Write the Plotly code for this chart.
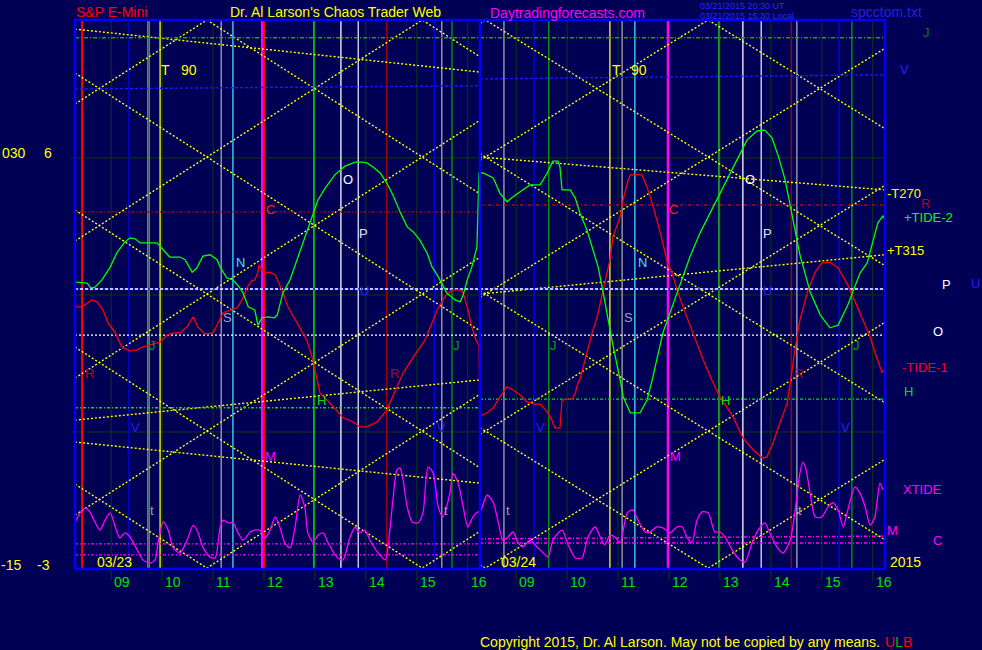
import plotly.graph_objects as go

# ---------------------------------------------------------------------------
# DATA  (x = session hours from the left edge; 03/23 covers 0..7.95, 03/24 covers 7.95..15.90)
#       (y = tide units, -3 at the bottom, 6 at the upper grid line)
# ---------------------------------------------------------------------------
SESSION_OPEN = 8.29          # clock hour at the left edge of each day
DAY_SPAN = 7.95
X_MAX = 15.90
Y_MIN, Y_MAX = -3.0, 9.02
HOURS = [9, 10, 11, 12, 13, 14, 15, 16]
DAYS = ["03/23", "03/24"]
GRID_LEVELS = [6, 3, 0]

GREEN_TIDE = [(0.02,3.28),(0.24,3.26),(0.31,3.15),(0.39,3.17),(0.53,3.33),(0.69,3.61),(0.82,3.92),(0.98,4.16),
 (1.08,4.25),(1.18,4.23),(1.28,4.14),(1.41,4.14),(1.61,4.14),(1.77,3.94),(1.86,3.83),(2.06,3.83),(2.16,3.77),
 (2.30,3.50),(2.39,3.59),(2.51,3.85),(2.65,3.88),(2.79,3.77),(2.85,3.61),(2.98,3.37),(3.10,3.33),(3.24,3.15),
 (3.30,3.04),(3.40,2.74),(3.53,2.67),(3.59,2.34),(3.67,2.50),(3.79,2.52),(3.91,2.50),(3.97,2.56),(4.08,3.04),
 (4.22,3.33),(4.36,3.77),(4.48,4.14),(4.61,4.58),(4.71,4.86),(4.77,5.08),(4.91,5.34),(5.10,5.63),(5.30,5.82),
 (5.50,5.91),(5.63,5.91),(5.73,5.89),(5.85,5.80),(5.99,5.67),(6.12,5.45),(6.24,5.19),(6.38,4.82),(6.52,4.49),
 (6.64,4.38),(6.77,4.20),(6.91,3.92),(7.01,3.61),(7.11,3.44),(7.20,3.26),(7.30,3.04),(7.46,2.89),(7.56,2.85),
 (7.62,3.00),(7.70,3.33),(7.79,3.61),(7.89,4.05),(7.91,4.86),(7.93,5.67),
 (8.01,5.67),(8.21,5.56),(8.34,5.23),(8.48,5.04),(8.60,5.15),(8.79,5.30),(8.93,5.41),(9.13,5.41),(9.27,5.67),
 (9.38,5.93),(9.48,5.93),(9.52,5.80),(9.56,5.30),(9.72,5.30),(9.82,5.12),(9.91,4.80),(10.05,4.42),(10.17,3.98),
 (10.27,3.61),(10.37,3.04),(10.46,2.45),(10.54,2.01),(10.70,1.14),(10.76,0.77),(10.90,0.42),(11.09,0.42),
 (11.23,0.70),(11.33,1.14),(11.54,2.17),(11.72,2.74),(11.88,3.26),(12.07,3.83),(12.27,4.36),(12.47,4.80),
 (12.66,5.23),(12.80,5.52),(13.00,5.96),(13.19,6.39),(13.39,6.59),(13.54,6.61),(13.68,6.44),(13.80,6.06),
 (13.94,5.52),(14.08,4.75),(14.23,3.88),(14.43,3.07),(14.63,2.56),(14.82,2.28),(14.98,2.34),(15.17,2.78),
 (15.41,3.48),(15.55,3.70),(15.67,4.20),(15.76,4.58),(15.86,4.73),(15.90,4.64)]

RED_TIDE = [(0.02,2.74),(0.14,2.74),(0.24,2.82),(0.33,2.89),(0.43,2.85),(0.55,2.67),(0.65,2.39),(0.79,2.17),
 (0.92,1.86),(1.08,1.77),(1.22,1.80),(1.32,1.86),(1.47,1.90),(1.67,1.97),(1.81,2.12),(1.92,2.17),(2.06,2.17),
 (2.20,2.30),(2.32,2.52),(2.41,2.30),(2.55,2.15),(2.71,2.17),(2.81,2.39),(2.91,2.61),(3.04,2.67),(3.18,2.72),
 (3.28,2.89),(3.38,3.17),(3.47,3.31),(3.53,3.33),(3.59,3.50),(3.61,3.66),(3.67,3.55),(3.73,3.48),(3.83,3.50),
 (3.93,3.44),(4.06,3.11),(4.18,2.74),(4.36,2.39),(4.55,2.01),(4.67,1.58),(4.81,0.85),(5.01,0.63),(5.26,0.31),
 (5.46,0.22),(5.59,0.11),(5.73,0.11),(5.93,0.22),(6.12,0.48),(6.24,0.77),(6.44,1.29),(6.64,1.64),(6.87,2.01),
 (7.11,2.67),(7.26,2.96),(7.40,3.11),(7.56,3.11),(7.62,3.04),(7.70,2.74),(7.79,2.30),(7.87,2.01),(7.93,1.90),
 (7.95,0.35),
 (8.09,0.42),(8.21,0.53),(8.34,0.77),(8.48,0.99),(8.60,0.92),(8.74,0.81),(8.87,0.66),(9.03,0.61),(9.13,0.61),
 (9.27,0.44),(9.36,0.26),(9.42,0.09),(9.52,0.09),(9.56,0.70),(9.66,0.72),(9.76,0.72),(9.82,0.85),(9.87,1.07),
 (9.91,1.14),(10.15,2.17),(10.25,2.52),(10.37,3.11),(10.50,3.77),(10.56,4.27),(10.70,4.71),(10.76,5.08),
 (10.84,5.45),(10.90,5.63),(11.13,5.63),(11.23,5.36),(11.35,4.93),(11.49,4.36),(11.63,3.70),(11.72,3.48),
 (11.84,3.04),(12.01,2.52),(12.13,2.17),(12.33,1.58),(12.50,1.14),(12.66,0.77),(12.92,0.33),(13.11,-0.13),
 (13.31,-0.39),(13.49,-0.57),(13.58,-0.55),(13.70,-0.24),(13.84,0.20),(13.98,0.63),(14.04,1.07),(14.13,1.80),
 (14.23,2.45),(14.39,3.11),(14.53,3.50),(14.66,3.70),(14.82,3.72),(14.98,3.59),(15.17,3.22),(15.41,2.61),
 (15.61,2.08),(15.70,1.75),(15.84,1.31),(15.88,1.36)]

XTIDE = [(0.00,-1.99),(0.10,-1.77),(0.20,-1.66),(0.29,-1.75),(0.39,-1.97),(0.49,-2.15),(0.59,-1.93),(0.69,-1.77),
 (0.79,-2.08),(0.88,-2.32),(0.98,-2.21),(1.08,-2.30),(1.22,-2.58),(1.33,-2.80),(1.47,-2.87),(1.57,-2.80),
 (1.63,-2.43),(1.73,-1.97),(1.83,-2.15),(1.92,-2.52),(2.06,-2.65),(2.20,-2.37),(2.32,-2.04),(2.41,-2.19),
 (2.51,-2.52),(2.65,-2.74),(2.75,-2.76),(2.85,-2.08),(2.91,-1.93),(3.00,-1.99),(3.10,-1.99),(3.20,-2.21),
 (3.30,-2.37),(3.44,-2.19),(3.53,-2.15),(3.63,-2.15),(3.73,-2.32),(3.83,-2.15),(3.93,-1.86),(4.02,-2.08),
 (4.12,-2.43),(4.22,-2.54),(4.32,-2.08),(4.42,-1.38),(4.51,-1.64),(4.57,-2.21),(4.67,-2.41),(4.77,-2.26),
 (4.87,-2.21),(4.97,-2.43),(5.14,-2.74),(5.26,-2.80),(5.40,-2.30),(5.50,-2.08),(5.59,-2.21),(5.69,-2.15),
 (5.79,-2.37),(5.95,-2.65),(6.09,-2.80),(6.18,-2.15),(6.24,-1.49),(6.32,-0.83),(6.38,-0.79),(6.44,-1.05),
 (6.52,-1.64),(6.62,-1.97),(6.73,-1.99),(6.83,-1.77),(6.93,-0.77),(7.03,-0.90),(7.13,-1.64),(7.22,-1.86),
 (7.36,-1.34),(7.42,-0.90),(7.52,-1.12),(7.62,-1.64),(7.71,-2.08),(7.81,-1.86),(7.91,-1.75),
 (7.95,-1.75),(8.09,-1.38),(8.21,-1.55),(8.30,-1.93),(8.40,-2.37),(8.50,-2.30),(8.60,-2.19),(8.70,-2.43),
 (8.79,-2.52),(8.93,-2.37),(9.07,-2.52),(9.19,-2.65),(9.29,-2.74),(9.38,-2.37),(9.56,-2.15),(9.68,-2.47),
 (9.82,-2.76),(9.95,-2.76),(10.07,-2.30),(10.21,-2.08),(10.31,-2.30),(10.40,-2.47),(10.50,-2.26),(10.60,-2.30),
 (10.70,-2.43),(10.84,-1.77),(10.95,-1.71),(11.05,-1.93),(11.19,-2.19),(11.29,-2.19),(11.42,-2.08),(11.54,-2.10),
 (11.68,-2.21),(11.82,-2.08),(11.92,-2.08),(12.01,-2.30),(12.11,-2.43),(12.21,-1.93),(12.31,-1.75),(12.43,-1.77),
 (12.56,-2.19),(12.66,-2.19),(12.76,-2.30),(12.90,-2.58),(13.01,-2.76),(13.15,-2.85),(13.29,-2.43),(13.41,-2.15),
 (13.54,-1.99),(13.64,-2.21),(13.78,-2.52),(13.90,-2.65),(14.04,-2.37),(14.13,-1.77),(14.23,-0.90),(14.29,-0.66),
 (14.35,-0.83),(14.43,-1.34),(14.53,-1.86),(14.66,-1.86),(14.78,-1.64),(14.88,-1.55),(14.98,-1.71),(15.08,-2.08),
 (15.17,-1.71),(15.31,-1.20),(15.41,-1.34),(15.51,-1.64),(15.61,-2.04),(15.70,-1.86),(15.80,-1.12),(15.86,-1.27)]

# event lines (session hours)
EVENT_X = [0.14, 1.06, 1.43, 1.46, 1.67, 2.87, 3.10, 3.67, 3.71, 4.69, 5.22, 5.56, 6.12, 7.05, 7.20, 7.40,
           8.42, 9.01, 9.30, 10.50, 10.74, 10.99, 11.64, 12.64, 13.11, 13.47, 14.06, 14.17, 15.00, 15.25]
EVENT_COLOR = ["#ff0000", "#0000ff", "#909090", "#30a030", "#ffff00", "#a0a0c8", "#40e0ff", "#ff00ff",
               "#ff0000", "#00ff00", "#ffffff", "#e0e0ff", "#b00000", "#0000ff", "#a8a8a8", "#00a000",
               "#a8a8a8", "#0000ff", "#00a000", "#ffff00", "#a8a8a8", "#40e0ff", "#ff00ff", "#20d020",
               "#ffffff", "#e0e0ff", "#b00000", "#a8a8c8", "#0000ff", "#00a000"]

# horizontal levels: value at start/end of 03/23, value at start/end of 03/24
LEVEL_NAMES = ["J", "V", "R", "U", "O", "H", "M", "C"]
LEVEL_DAY1 = [(8.63, 8.63), (7.51, 7.58), (4.82, 4.82), (3.13, 3.13), (2.12, 2.12), (0.53, 0.53), (-2.45, -2.45), (-2.69, -2.69)]
LEVEL_DAY2 = [(8.63, 8.63), (7.73, 7.82), (4.97, 4.97), (3.13, 3.13), (2.12, 2.12), (0.72, 0.72), (-2.34, -2.28), (-2.43, -2.43)]

# time-price lattice per day: x of apex touching the top, slope (units/hour), spacing
LATTICE_APEX = [2.59, 12.43]
LATTICE_SLOPE = [0.71, 0.686]
LATTICE_STEP = 3.0

# slow trend lines (start value, end value) per day
TREND_DAY1 = [(8.82, 7.88), (0.26, 1.14), (-0.22, -1.12)]
TREND_DAY2 = [(6.02, 5.30), (3.02, 3.88)]

# ---------------------------------------------------------------------------
FONT = "Liberation Sans, Arial, sans-serif"
BG = "#000055"
GRID = "#0c3a10"

fig = go.Figure()

def day_edges(d):
    return (0.0, DAY_SPAN) if d == 0 else (DAY_SPAN, X_MAX)

# hour grid & tick extensions
for d in range(2):
    for h in HOURS:
        xt = d * DAY_SPAN + h - SESSION_OPEN
        fig.add_shape(type="line", xref="x", yref="paper", x0=xt, x1=xt, y0=-0.021, y1=1,
                      line=dict(color=GRID, width=1), layer="below")
for lv in GRID_LEVELS:
    fig.add_shape(type="line", xref="paper", yref="y", x0=-0.005, x1=1, y0=lv, y1=lv,
                  line=dict(color=GRID, width=1), layer="below")

# event lines
for xv, col in zip(EVENT_X, EVENT_COLOR):
    w = 2.5 if col == "#ff00ff" and xv > 8 else (2 if col in ("#ff00ff", "#ff0000") else 1.3)
    fig.add_shape(type="line", xref="x", yref="paper", x0=xv, x1=xv, y0=0, y1=1,
                  line=dict(color=col, width=w), layer="below")

# lattice
lx, ly = [], []
for d in range(2):
    x0, x1 = day_edges(d)
    a, s = LATTICE_APEX[d], LATTICE_SLOPE[d]
    for k in range(-8, 5):
        base = Y_MAX + LATTICE_STEP * k
        for sg in (1, -1):
            lx += [x0, x1, None]
            ly += [base + sg * s * (x0 - a), base + sg * s * (x1 - a), None]
fig.add_trace(go.Scatter(x=lx, y=ly, mode="lines", line=dict(color="#ffff00", width=1.4, dash="2px,2px"),
                         hoverinfo="skip"))

# trend lines
tx, ty = [], []
for d, trends in enumerate([TREND_DAY1, TREND_DAY2]):
    x0, x1 = day_edges(d)
    for y0, y1 in trends:
        tx += [x0, x1, None]
        ty += [y0, y1, None]
fig.add_trace(go.Scatter(x=tx, y=ty, mode="lines", line=dict(color="#ffff00", width=1.4, dash="2px,2px"),
                         hoverinfo="skip"))

# horizontal levels
LEVEL_STYLE = {"J": ("#00b000", "4px,2px,1px,2px"), "V": ("#1818ff", "3px,2px"), "R": ("#c00000", "3px,2px,1px,2px"),
               "U": ("#ffffff", "3px,2px"), "O": ("#ffffff", "2px,2px"), "H": ("#00e000", "3px,2px,1px,2px"),
               "M": ("#ff00ff", "3px,2px,1px,2px"), "C": ("#ff00ff", "3px,2px,1px,2px")}
for name, v1, v2 in zip(LEVEL_NAMES, LEVEL_DAY1, LEVEL_DAY2):
    col, dash = LEVEL_STYLE[name]
    xs = [0, DAY_SPAN, None, DAY_SPAN, X_MAX]
    ys = [v1[0], v1[1], None, v2[0], v2[1]]
    if name == "U":
        fig.add_trace(go.Scatter(x=xs, y=ys, mode="lines", line=dict(color="#1818ff", width=1.5), hoverinfo="skip"))
    fig.add_trace(go.Scatter(x=xs, y=ys, mode="lines", line=dict(color=col, width=1.4, dash=dash), hoverinfo="skip"))

# tides
for pts, col, shape in [(XTIDE, "#ff00ff", "spline"), (RED_TIDE, "#ff0000", "linear"), (GREEN_TIDE, "#00ff00", "linear")]:
    fig.add_trace(go.Scatter(x=[p[0] for p in pts], y=[p[1] for p in pts], mode="lines",
                             line=dict(color=col, width=1.3, shape=shape, smoothing=0.7), hoverinfo="skip"))

# frame and day divider
fig.add_shape(type="rect", xref="paper", yref="paper", x0=0, x1=1, y0=0, y1=1, line=dict(color="#0000ff", width=2.5))
fig.add_shape(type="line", xref="x", yref="paper", x0=DAY_SPAN, x1=DAY_SPAN, y0=0, y1=1, line=dict(color="#0000ff", width=2.5))

def label(text, x, y, color, size=13):
    """Place text at a chart (time, value) position, mapped to the paper frame so it may sit outside the axes."""
    fig.add_annotation(text=text, x=x / X_MAX, y=(y - Y_MIN) / (Y_MAX - Y_MIN), xref="paper", yref="paper",
                       showarrow=False, xanchor="left", yanchor="middle",
                       font=dict(color=color, size=size, family=FONT), borderpad=0)

# hour labels and day labels
for d in range(2):
    for h in HOURS:
        label(f"{h:02d}", d * DAY_SPAN + h - SESSION_OPEN + 0.04, -3.28, "#00e000", 14)
label(DAYS[0], 0.41, -2.85, "#ffff00", 14)
label(DAYS[1], 8.34, -2.85, "#ffff00", 14)
label("2015", 15.98, -2.85, "#ffff00", 14)

# left scale
label("030", -1.45, 6.11, "#ffff00", 14)
label("6", -0.62, 6.11, "#ffff00", 14)
label("-15", -1.48, -2.91, "#ffff00", 14)
label("-3", -0.76, -2.91, "#ffff00", 14)

# header
label("S&P E-Mini", 0.0, 9.20, "#ff0000", 14)
label("Dr. Al Larson's Chaos Trader Web", 3.02, 9.20, "#ffff00", 14)
label("Daytradingforecasts.com", 8.13, 9.18, "#ff00ff", 14)
label("03/21/2015 20:30 UT", 12.25, 9.32, "#2828ff", 9)
label("03/21/2015 15:30 Local", 12.25, 9.10, "#2828ff", 9)
label("spcctom.txt", 15.21, 9.20, "#2020e0", 14)
label("Copyright 2015, Dr. Al Larson. May not be copied by any means.", 7.93, -4.60, "#ffff00", 14)
label("<span style='color:#ff0000'>U</span><span style='color:#00c000'>L</span>"
      "<span style='color:#ff0000'>B</span>", 15.88, -4.60, "#ff0000", 14)

# right-side labels
RIGHT = [("J", 16.63, 8.74, "#008000"), ("V", 16.18, 7.93, "#2020ff"), ("-T270", 15.92, 5.23, "#ffff00"),
         ("R", 16.58, 5.00, "#c00000"), ("+TIDE-2", 16.25, 4.70, "#00ff00"), ("+T315", 15.92, 3.98, "#ffff00"),
         ("P", 17.00, 3.22, "#ffffff"), ("U", 17.57, 3.26, "#2020ff"), ("O", 16.82, 2.21, "#ffffff"),
         ("-TIDE-1", 16.21, 1.42, "#ff0000"), ("H", 16.25, 0.88, "#00e000"), ("XTIDE", 16.23, -1.27, "#ff00ff"),
         ("M", 15.92, -2.15, "#ff00ff"), ("C", 16.82, -2.37, "#ff00ff")]
for t, x, y, c in RIGHT:
    label(t, x, y, c, 13)

# in-plot event letters
INPLOT = [("T", [1.67, 10.52], 7.93, "#ffff00"), ("90", [2.06, 10.90], 7.93, "#ffff00"),
          ("O", [5.24, 13.13], 5.52, "#ffffff"), ("P", [5.56, 13.49], 4.34, "#e0e0ff"),
          ("N", [3.14, 11.03], 3.70, "#40e0ff"), ("S", [2.89, 10.76], 2.50, "#a0a0c8"),
          ("U", [5.58, 13.49], 3.10, "#2020ff"), ("C", [3.73, 11.64], 4.88, "#ff2020"),
          ("J", [1.43, 7.40, 9.30, 15.25], 1.90, "#00a000"), ("R", [0.18, 6.16, 14.10], 1.29, "#c00000"),
          ("H", [4.73, 12.66], 0.70, "#00e000"), ("V", [1.08, 7.09, 9.03, 15.02], 0.09, "#2020ff"),
          ("M", [3.71, 11.66], -0.53, "#ff00ff"), ("t", [1.45, 7.22, 8.44, 14.17], -1.71, "#a0a0a0")]
for t, xs, y, c in INPLOT:
    for x in xs:
        label(t, x, y, c, 14 if t in ("T", "90") else 13)

fig.update_layout(
    width=982, height=650, margin=dict(l=75, r=97, t=20, b=81),
    paper_bgcolor=BG, plot_bgcolor=BG, showlegend=False, hovermode=False,
    xaxis=dict(range=[0, X_MAX], showgrid=False, zeroline=False, showticklabels=False, fixedrange=True),
    yaxis=dict(range=[Y_MIN, Y_MAX], showgrid=False, zeroline=False, showticklabels=False, fixedrange=True),
)
fig.write_html("out.html", config={"displayModeBar": False},
               post_script="document.body.style.margin='0';document.body.style.background='#000055';")
